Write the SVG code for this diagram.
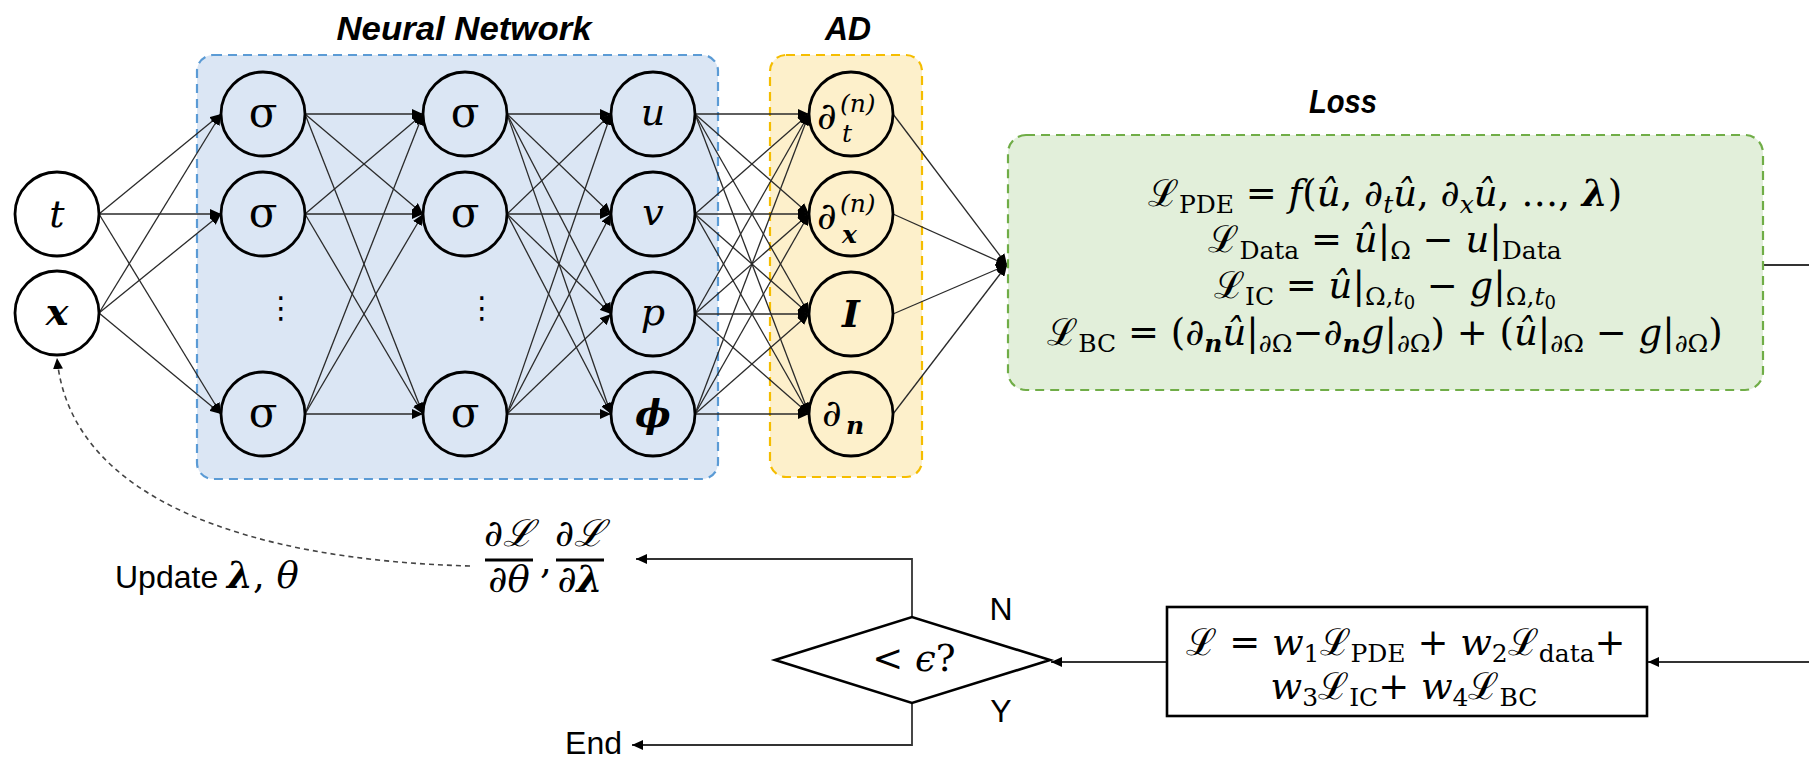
<svg xmlns="http://www.w3.org/2000/svg" width="1809" height="760" viewBox="0 0 1809 760">
<style>
.title{font-family:"Liberation Sans",Arial,sans-serif;font-weight:bold;font-style:italic;font-size:34px;fill:#000}
.node{fill:none;stroke:#000;stroke-width:2.8}
.nodew{fill:#fff;stroke:#000;stroke-width:2.8}
.m{font-family:"DejaVu Serif","Liberation Serif",serif;font-style:italic;font-size:38px;fill:#000}
.sig{font-family:"DejaVu Serif","Liberation Serif",serif;font-size:42px;fill:#000}
.bi{font-weight:bold}
.f{font-family:"DejaVu Serif","Liberation Serif",serif;font-size:37px;fill:#000}
.i{font-style:italic}
.s{font-size:25px}
.ss{font-size:18px}
.sans{font-family:"Liberation Sans",Arial,sans-serif;font-size:32px;fill:#000}
.c{stroke:#2a2a2a;stroke-width:1.3;fill:none;marker-end:url(#ah)}
.flow{stroke:#333;stroke-width:1.8;fill:none;marker-end:url(#ah)}
.dots{font-family:"DejaVu Sans",sans-serif;font-size:30px;fill:#000}
</style>
<defs>
<marker id="ah" markerUnits="userSpaceOnUse" markerWidth="12" markerHeight="10" refX="11" refY="5" orient="auto"><path d="M0,0 L11,5 L0,10 z" fill="#000"/></marker>
</defs>
<rect width="1809" height="760" fill="#fff"/>

<g id="nn-box">
<rect x="197" y="55" width="521" height="424" rx="16" fill="#dbe6f4" stroke="#5b9bd5" stroke-width="2.2" stroke-dasharray="9 6"/>
<text class="title" x="464" y="40" text-anchor="middle" textLength="255" lengthAdjust="spacingAndGlyphs">Neural Network</text>
</g>
<g id="ad-box">
<rect x="770" y="55" width="152" height="422" rx="16" fill="#fdf0cb" stroke="#f5bd00" stroke-width="2.2" stroke-dasharray="9 6"/>
<text class="title" x="848" y="40" text-anchor="middle" textLength="46" lengthAdjust="spacingAndGlyphs">AD</text>
</g>

<g id="connectors">
<line class="c" x1="99" y1="214" x2="221" y2="114"/>
<line class="c" x1="99" y1="214" x2="221" y2="214"/>
<line class="c" x1="99" y1="214" x2="221" y2="414"/>
<line class="c" x1="99" y1="313" x2="221" y2="114"/>
<line class="c" x1="99" y1="313" x2="221" y2="214"/>
<line class="c" x1="99" y1="313" x2="221" y2="414"/>
<line class="c" x1="305" y1="114" x2="423" y2="114"/>
<line class="c" x1="305" y1="114" x2="423" y2="214"/>
<line class="c" x1="305" y1="114" x2="423" y2="414"/>
<line class="c" x1="305" y1="214" x2="423" y2="114"/>
<line class="c" x1="305" y1="214" x2="423" y2="214"/>
<line class="c" x1="305" y1="214" x2="423" y2="414"/>
<line class="c" x1="305" y1="414" x2="423" y2="114"/>
<line class="c" x1="305" y1="414" x2="423" y2="214"/>
<line class="c" x1="305" y1="414" x2="423" y2="414"/>
<line class="c" x1="507" y1="114" x2="611" y2="114"/>
<line class="c" x1="507" y1="114" x2="611" y2="214"/>
<line class="c" x1="507" y1="114" x2="611" y2="314"/>
<line class="c" x1="507" y1="114" x2="611" y2="414"/>
<line class="c" x1="507" y1="214" x2="611" y2="114"/>
<line class="c" x1="507" y1="214" x2="611" y2="214"/>
<line class="c" x1="507" y1="214" x2="611" y2="314"/>
<line class="c" x1="507" y1="214" x2="611" y2="414"/>
<line class="c" x1="507" y1="414" x2="611" y2="114"/>
<line class="c" x1="507" y1="414" x2="611" y2="214"/>
<line class="c" x1="507" y1="414" x2="611" y2="314"/>
<line class="c" x1="507" y1="414" x2="611" y2="414"/>
<line class="c" x1="695" y1="114" x2="809" y2="114"/>
<line class="c" x1="695" y1="114" x2="809" y2="214"/>
<line class="c" x1="695" y1="114" x2="809" y2="314"/>
<line class="c" x1="695" y1="114" x2="809" y2="414"/>
<line class="c" x1="695" y1="214" x2="809" y2="114"/>
<line class="c" x1="695" y1="214" x2="809" y2="214"/>
<line class="c" x1="695" y1="214" x2="809" y2="314"/>
<line class="c" x1="695" y1="214" x2="809" y2="414"/>
<line class="c" x1="695" y1="314" x2="809" y2="114"/>
<line class="c" x1="695" y1="314" x2="809" y2="214"/>
<line class="c" x1="695" y1="314" x2="809" y2="314"/>
<line class="c" x1="695" y1="314" x2="809" y2="414"/>
<line class="c" x1="695" y1="414" x2="809" y2="114"/>
<line class="c" x1="695" y1="414" x2="809" y2="214"/>
<line class="c" x1="695" y1="414" x2="809" y2="314"/>
<line class="c" x1="695" y1="414" x2="809" y2="414"/>
<line class="c" x1="893" y1="114" x2="1007" y2="265"/>
<line class="c" x1="893" y1="214" x2="1007" y2="265"/>
<line class="c" x1="893" y1="314" x2="1007" y2="265"/>
<line class="c" x1="893" y1="414" x2="1007" y2="265"/>
<path class="flow" d="M1763,265 H1816 V662 H1648"/>
<path class="flow" d="M1167,662 H1051"/>
<path class="flow" d="M912,617 V559 H636"/>
<path class="flow" d="M912,703 V745 H632"/>
<path d="M470,566 C250,560 70,500 57,358" fill="none" stroke="#444" stroke-width="1.6" stroke-dasharray="5 4" marker-end="url(#ah)"/>
</g>

<g id="node-t"><circle class="nodew" cx="57" cy="214" r="42"/><text class="m" x="57" y="227" text-anchor="middle">t</text></g>
<g id="node-x"><circle class="nodew" cx="57" cy="313" r="42"/><text class="m bi" x="57" y="325" text-anchor="middle">x</text></g>

<g id="h1-1"><circle class="node" cx="263" cy="114" r="42"/><text class="sig" x="263" y="127" text-anchor="middle">σ</text></g>
<g id="h1-2"><circle class="node" cx="263" cy="214" r="42"/><text class="sig" x="263" y="227" text-anchor="middle">σ</text></g>
<g id="h1-dots"><text class="dots" x="281" y="318" text-anchor="middle">⋮</text></g>
<g id="h1-3"><circle class="node" cx="263" cy="414" r="42"/><text class="sig" x="263" y="427" text-anchor="middle">σ</text></g>

<g id="h2-1"><circle class="node" cx="465" cy="114" r="42"/><text class="sig" x="465" y="127" text-anchor="middle">σ</text></g>
<g id="h2-2"><circle class="node" cx="465" cy="214" r="42"/><text class="sig" x="465" y="227" text-anchor="middle">σ</text></g>
<g id="h2-dots"><text class="dots" x="482" y="318" text-anchor="middle">⋮</text></g>
<g id="h2-3"><circle class="node" cx="465" cy="414" r="42"/><text class="sig" x="465" y="427" text-anchor="middle">σ</text></g>

<g id="out-u"><circle class="node" cx="653" cy="114" r="42"/><text class="m" x="653" y="125" text-anchor="middle">u</text></g>
<g id="out-v"><circle class="node" cx="653" cy="214" r="42"/><text class="m" x="653" y="225" text-anchor="middle">v</text></g>
<g id="out-p"><circle class="node" cx="653" cy="314" r="42"/><text class="m" x="653" y="325" text-anchor="middle">p</text></g>
<g id="out-phi"><circle class="node" cx="653" cy="414" r="42"/><text class="m bi" x="653" y="427" text-anchor="middle">ϕ</text></g>

<g id="ad-dt"><circle class="node" cx="851" cy="114" r="42"/><text class="m"><tspan x="817" y="129">∂</tspan><tspan x="840" y="112" class="s">(n)</tspan><tspan x="842" y="142" class="s">t</tspan></text></g>
<g id="ad-dx"><circle class="node" cx="851" cy="214" r="42"/><text class="m"><tspan x="817" y="229">∂</tspan><tspan x="840" y="212" class="s">(n)</tspan><tspan x="842" y="243" class="s bi">x</tspan></text></g>
<g id="ad-i"><circle class="node" cx="851" cy="314" r="42"/><text class="m bi" x="851" y="327" text-anchor="middle">I</text></g>
<g id="ad-dn"><circle class="node" cx="851" cy="414" r="42"/><text class="m"><tspan x="822" y="426">∂</tspan><tspan x="846" y="434" class="s bi">n</tspan></text></g>

<g id="loss">
<rect x="1008" y="135" width="755" height="255" rx="18" fill="#e2efda" stroke="#70ad47" stroke-width="2.2" stroke-dasharray="9 6"/>
<text class="title" x="1343" y="113" text-anchor="middle" textLength="68" lengthAdjust="spacingAndGlyphs">Loss</text>
<text class="f" x="1385" y="206" text-anchor="middle">ℒ<tspan class="s" dy="7">PDE</tspan><tspan dy="-7"> = </tspan><tspan class="i">f</tspan>(<tspan class="i">û</tspan>, ∂<tspan class="s i" dy="7">t</tspan><tspan class="i" dy="-7">û</tspan>, ∂<tspan class="s i" dy="7">x</tspan><tspan class="i" dy="-7">û</tspan>, …, <tspan class="i bi">λ</tspan>)</text>
<text class="f" x="1385" y="252" text-anchor="middle">ℒ<tspan class="s" dy="7">Data</tspan><tspan dy="-7"> = </tspan><tspan class="i">û</tspan>|<tspan class="s" dy="7">Ω</tspan><tspan dy="-7"> − </tspan><tspan class="i">u</tspan>|<tspan class="s" dy="7">Data</tspan></text>
<text class="f" x="1385" y="298" text-anchor="middle">ℒ<tspan class="s" dy="7">IC</tspan><tspan dy="-7"> = </tspan><tspan class="i">û</tspan>|<tspan class="s" dy="7">Ω,</tspan><tspan class="s i">t</tspan><tspan class="ss" dy="4">0</tspan><tspan dy="-11"> − </tspan><tspan class="i">g</tspan>|<tspan class="s" dy="7">Ω,</tspan><tspan class="s i">t</tspan><tspan class="ss" dy="4">0</tspan></text>
<text class="f" x="1385" y="345" text-anchor="middle">ℒ<tspan class="s" dy="7">BC</tspan><tspan dy="-7"> = (∂</tspan><tspan class="s i bi" dy="7">n</tspan><tspan class="i" dy="-7">û</tspan>|<tspan class="s" dy="7">∂Ω</tspan><tspan dy="-7">−∂</tspan><tspan class="s i bi" dy="7">n</tspan><tspan class="i" dy="-7">g</tspan>|<tspan class="s" dy="7">∂Ω</tspan><tspan dy="-7">) + (</tspan><tspan class="i">û</tspan>|<tspan class="s" dy="7">∂Ω</tspan><tspan dy="-7"> − </tspan><tspan class="i">g</tspan>|<tspan class="s" dy="7">∂Ω</tspan><tspan dy="-7">)</tspan></text>
</g>

<g id="total-loss">
<rect x="1167" y="607" width="480" height="109" fill="#fff" stroke="#000" stroke-width="2.6"/>
<text class="f" x="1406" y="655" text-anchor="middle" font-size="31">ℒ = <tspan class="i">w</tspan><tspan class="s" dy="7">1</tspan><tspan dy="-7">ℒ</tspan><tspan class="s" dy="7">PDE</tspan><tspan dy="-7"> + </tspan><tspan class="i">w</tspan><tspan class="s" dy="7">2</tspan><tspan dy="-7">ℒ</tspan><tspan class="s" dy="7">data</tspan><tspan dy="-7">+</tspan></text>
<text class="f" x="1404" y="699" text-anchor="middle" font-size="31"><tspan class="i">w</tspan><tspan class="s" dy="7">3</tspan><tspan dy="-7">ℒ</tspan><tspan class="s" dy="7">IC</tspan><tspan dy="-7">+ </tspan><tspan class="i">w</tspan><tspan class="s" dy="7">4</tspan><tspan dy="-7">ℒ</tspan><tspan class="s" dy="7">BC</tspan></text>
</g>

<g id="decision">
<polygon points="775,660 912,617 1050,660 912,703" fill="#fff" stroke="#000" stroke-width="2.6"/>
<text class="f" x="914" y="671" text-anchor="middle" font-size="32">&lt; <tspan class="i">ϵ</tspan>?</text>
<text class="sans" x="1001" y="620" text-anchor="middle">N</text>
<text class="sans" x="1001" y="722" text-anchor="middle">Y</text>
</g>

<g id="gradients">
<text class="f i" x="509" y="546" text-anchor="middle" font-size="29">∂ℒ</text>
<line x1="485" y1="560" x2="533" y2="560" stroke="#000" stroke-width="3"/>
<text class="f i" x="509" y="592" text-anchor="middle" font-size="29">∂θ</text>
<text class="f" x="540" y="573" font-size="29">,</text>
<text class="f i" x="580" y="546" text-anchor="middle" font-size="29">∂ℒ</text>
<line x1="556" y1="560" x2="604" y2="560" stroke="#000" stroke-width="3"/>
<text class="f i" x="580" y="592" text-anchor="middle" font-size="29">∂<tspan class="bi">λ</tspan></text>
</g>

<g id="update"><text class="sans" x="115" y="588" font-size="38">Update <tspan class="f i bi" font-size="35">λ</tspan><tspan class="f" font-size="35">, </tspan><tspan class="f i" font-size="35">θ</tspan></text></g>
<g id="end"><text class="sans" x="622" y="754" text-anchor="end">End</text></g>
</svg>
